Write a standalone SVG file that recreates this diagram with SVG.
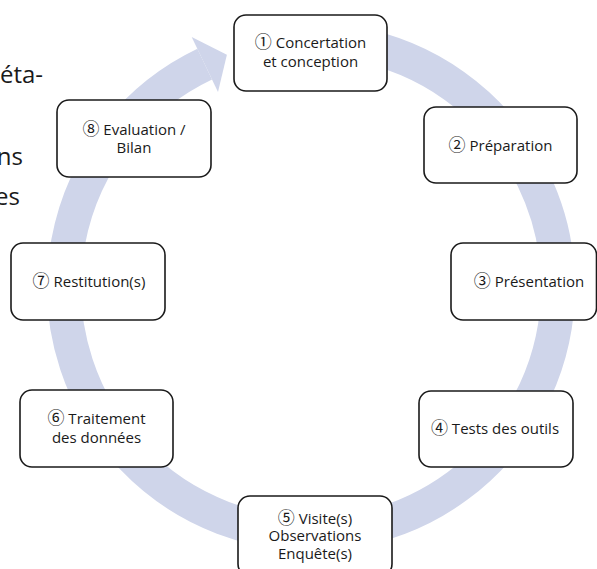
<svg xmlns="http://www.w3.org/2000/svg" width="597" height="569" viewBox="0 0 597 569">
<style>
.box{fill:#fff;stroke:#1a1a1a;stroke-width:1.6}
.t{font-family:"Open Sans","DejaVu Sans",sans-serif;font-size:15px;fill:#1a1a1a;text-anchor:middle}
.d{font-family:"Noto Sans CJK JP","Noto Sans CJK SC",sans-serif;font-size:17px;font-weight:400}
.side{font-family:"Open Sans","DejaVu Sans",sans-serif;font-size:24px;fill:#1a1a1a;text-anchor:end}
.band{fill:none;stroke:#CFD5EA;stroke-width:34}
</style>
<rect width="597" height="569" fill="#fff"/>
<g id="side-text">
<text class="side" x="43" y="83">éta-</text>
<text class="side" x="23" y="165">ns</text>
<text class="side" x="20" y="205">es</text>
</g>
<g id="connectors">
<path class="band" d="M353.9,43.8 A247,247 0 1 1 204.7,64.1"/>
<polygon points="191.7,37 226.9,54.7 218,92" fill="#CFD5EA"/>
</g>
<g id="n1"><rect class="box" x="234" y="15" width="153" height="76" rx="12"/><text class="t" x="310.5" y="48"><tspan class="d">①</tspan> Concertation</text><text class="t" x="310.5" y="67">et conception</text></g>
<g id="n2"><rect class="box" x="424" y="107" width="153" height="76" rx="12"/><text class="t" x="500.5" y="150.5"><tspan class="d">②</tspan> Préparation</text></g>
<g id="n3"><rect class="box" x="451" y="243" width="145.5" height="77" rx="12"/><text class="t" x="529" y="286.5"><tspan class="d">③</tspan> Présentation</text></g>
<g id="n4"><rect class="box" x="419" y="391" width="154" height="76" rx="12"/><text class="t" x="495" y="434"><tspan class="d">④</tspan> Tests des outils</text></g>
<g id="n5"><rect class="box" x="238" y="496" width="154" height="80" rx="12"/><text class="t" x="315" y="523.5"><tspan class="d">⑤</tspan> Visite(s)</text><text class="t" x="315" y="541">Observations</text><text class="t" x="315" y="558.5">Enquête(s)</text></g>
<g id="n6"><rect class="box" x="20" y="390" width="153" height="77" rx="12"/><text class="t" x="96.5" y="424"><tspan class="d">⑥</tspan> Traitement</text><text class="t" x="96.5" y="443">des données</text></g>
<g id="n7"><rect class="box" x="11" y="243" width="154" height="77" rx="12"/><text class="t" x="89" y="286.5"><tspan class="d">⑦</tspan> Restitution(s)</text></g>
<g id="n8"><rect class="box" x="57" y="100" width="154" height="77" rx="12"/><text class="t" x="134" y="134.5"><tspan class="d">⑧</tspan> Evaluation /</text><text class="t" x="134" y="153">Bilan</text></g>
</svg>
